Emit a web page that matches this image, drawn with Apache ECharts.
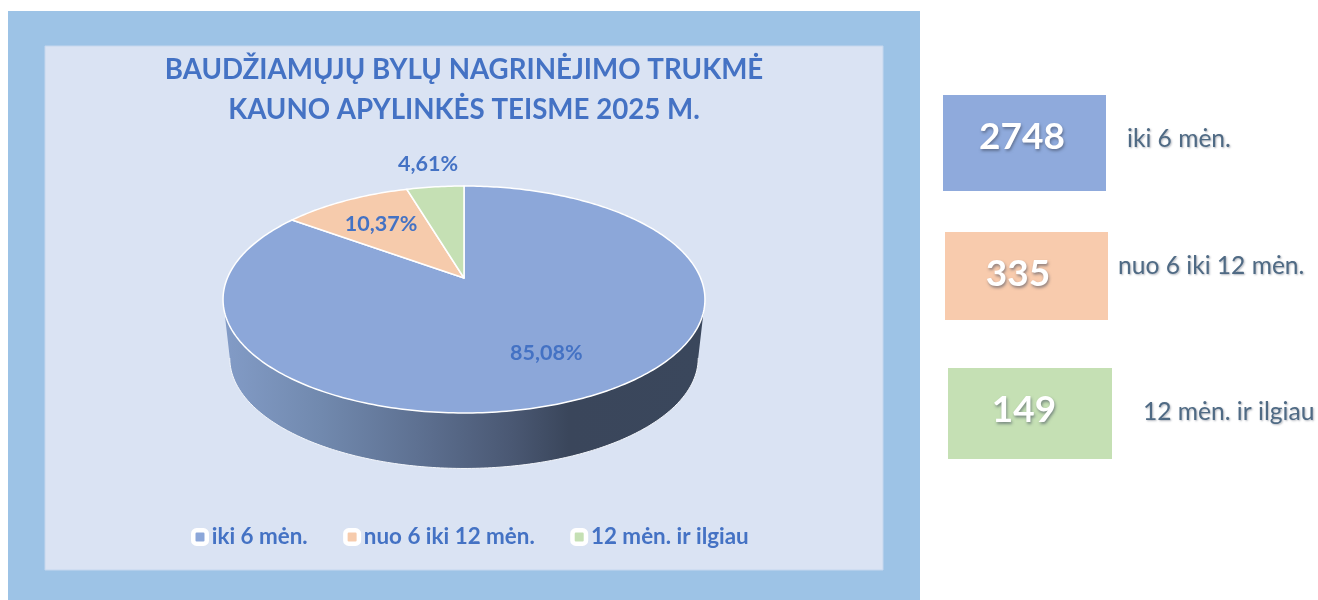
<!DOCTYPE html>
<html><head><meta charset="utf-8">
<style>html,body{margin:0;padding:0;background:#fff}#c{width:1318px;height:600px}</style>
<script src="https://cdn.jsdelivr.net/npm/echarts@6/dist/echarts.min.js"></script>
</head><body><div id="c"></div>
<script>
const categories = ['iki 6 mėn.', 'nuo 6 iki 12 mėn.', '12 mėn. ir ilgiau'];
const caseCounts = [2748, 335, 149];
const percentLabels = ['85,08%', '10,37%', '4,61%'];
const sliceColors = ['#8ca7d9', '#f6cbac', '#c5e0b4'];
const cardColors = ['#8faadc', '#f8cbad', '#c5e0b4'];
const titleLines = ['BAUDŽIAMŲJŲ BYLŲ NAGRINĖJIMO TRUKMĖ', 'KAUNO APYLINKĖS TEISME 2025 M.'];

const BLUE = '#4472c4', FONT = 'Lato, Carlito, sans-serif';
const total = caseCounts.reduce((a, b) => a + b, 0);

// perspective view of the pie disc
const P = { cx: 464, cy: 278, A: 236.6, B: 109.4, k: 0.1894 };
const project = (th, r) => {
  const u = r * Math.sin(th), v = r * Math.cos(th), d = 1 + P.k * v;
  return [P.cx + P.A * u / d, P.cy - P.B * v / d];
};
const base = ([x, y]) => [P.cx + 0.972 * (x - P.cx), 468.5 - 0.972 * (413 - y)];
const labelRadius = [0.68, 0.67, 1.31];

function sliceItem(i) {
  return function (params, api) {
    const before = caseCounts.slice(0, i).reduce((a, b) => a + b, 0);
    const a0 = before / total * 2 * Math.PI;
    const a1 = (before + api.value(0)) / total * 2 * Math.PI;
    const pts = [[P.cx, P.cy]];
    const n = Math.max(8, Math.ceil((a1 - a0) * 60));
    for (let j = 0; j <= n; j++) pts.push(project(a0 + (a1 - a0) * j / n, 1));
    const lab = project((a0 + a1) / 2, labelRadius[i]);
    return {
      type: 'group', children: [
        { type: 'polygon', shape: { points: pts },
          style: { fill: sliceColors[i], stroke: '#fff', lineWidth: 1.5, lineJoin: 'round' } },
        { type: 'text', x: lab[0], y: lab[1], z2: 10,
          style: { text: percentLabels[i], fill: BLUE, font: 'bold 21.5px ' + FONT, textAlign: 'center', textVerticalAlign: 'middle' } }
      ]
    };
  };
}

function wallItem() {
  const front = [];
  for (let t = 0; t <= 200; t++) {
    const th = Math.PI * 0.5 + 0.19 + (Math.PI - 0.38) * t / 200;
    front.push(base(project(th, 1)));
  }
  const top = [];
  for (let t = 200; t >= 0; t--) {
    const th = Math.PI * 0.5 + 0.19 + (Math.PI - 0.38) * t / 200;
    top.push(project(th, 1));
  }
  const grad = new echarts.graphic.LinearGradient(226, 0, 702, 0, [
    { offset: 0, color: '#829bc6' },
    { offset: 0.2, color: '#7189ae' },
    { offset: 0.4, color: '#5e7192' },
    { offset: 0.6, color: '#4a5873' },
    { offset: 0.72, color: '#3a465b' },
    { offset: 1, color: '#3a475c' }
  ], true);
  return { type: 'group', children: [
    { type: 'polygon', shape: { points: front.concat(top) }, style: { fill: grad } },
    { type: 'polyline', shape: { points: front }, style: { fill: null, stroke: '#f4f7fc', lineWidth: 1 } }
  ] };
}

const cards = [
  { x: 943, y: 95, w: 163, h: 96, tx: 1022, ty: 137, lx: 1127, ly: 139 },
  { x: 945, y: 232, w: 163, h: 88, tx: 1018, ty: 274, lx: 1118, ly: 266 },
  { x: 948, y: 368, w: 164, h: 91, tx: 1024, ty: 410, lx: 1143, ly: 412 }
];
const graphics = [
  { type: 'rect', z: -2, shape: { x: 8, y: 11, width: 912, height: 589 }, style: { fill: '#9dc3e6' } },
  { type: 'rect', z: -1, shape: { x: 45, y: 46, width: 838, height: 524 }, style: { fill: '#dae3f3', stroke: '#c5d7ee', lineWidth: 1 } }
];
cards.forEach((c, i) => {
  graphics.push(
    { type: 'rect', shape: { x: c.x, y: c.y, width: c.w, height: c.h }, style: { fill: cardColors[i] } },
    { type: 'text', x: c.tx, y: c.ty, style: { text: String(caseCounts[i]), fill: '#fff', font: 'bold 37px ' + FONT, textAlign: 'center', textVerticalAlign: 'middle', textShadowColor: 'rgba(60,70,90,0.55)', textShadowBlur: 3, textShadowOffsetX: 1, textShadowOffsetY: 2 } },
    { type: 'text', x: c.lx, y: c.ly, style: { text: categories[i], fill: '#4f6a84', font: '24.6px ' + FONT, textAlign: 'left', textVerticalAlign: 'middle', textShadowColor: 'rgba(60,70,90,0.4)', textShadowBlur: 2, textShadowOffsetX: 1, textShadowOffsetY: 1 } }
  );
});

const chart = echarts.init(document.getElementById('c'), null, { renderer: 'canvas' });
chart.setOption({
  animation: false,
  backgroundColor: '#fff',
  title: {
    text: titleLines.join('\n'), left: 459, top: 45, textAlign: 'center',
    textStyle: { color: BLUE, fontFamily: FONT, fontWeight: 'bold', fontSize: 27.7, lineHeight: 40 }
  },
  legend: {
    data: categories, left: 186, top: 521, icon: 'roundRect', itemWidth: 13.5, itemHeight: 13.5, itemGap: 35.5,
    itemStyle: { borderColor: '#fff', borderWidth: 4.5 },
    selectedMode: false,
    textStyle: { color: BLUE, fontFamily: FONT, fontWeight: 'bold', fontSize: 22.4 }
  },
  graphic: graphics,
  series: [
    { type: 'custom', name: 'sonas', coordinateSystem: 'none', silent: true, data: [[total]], renderItem: wallItem }
  ].concat(categories.map((name, i) => ({
    type: 'custom', name, coordinateSystem: 'none', silent: true,
    itemStyle: { color: sliceColors[i] }, data: [[caseCounts[i]]], renderItem: sliceItem(i)
  })))
});
</script></body></html>
